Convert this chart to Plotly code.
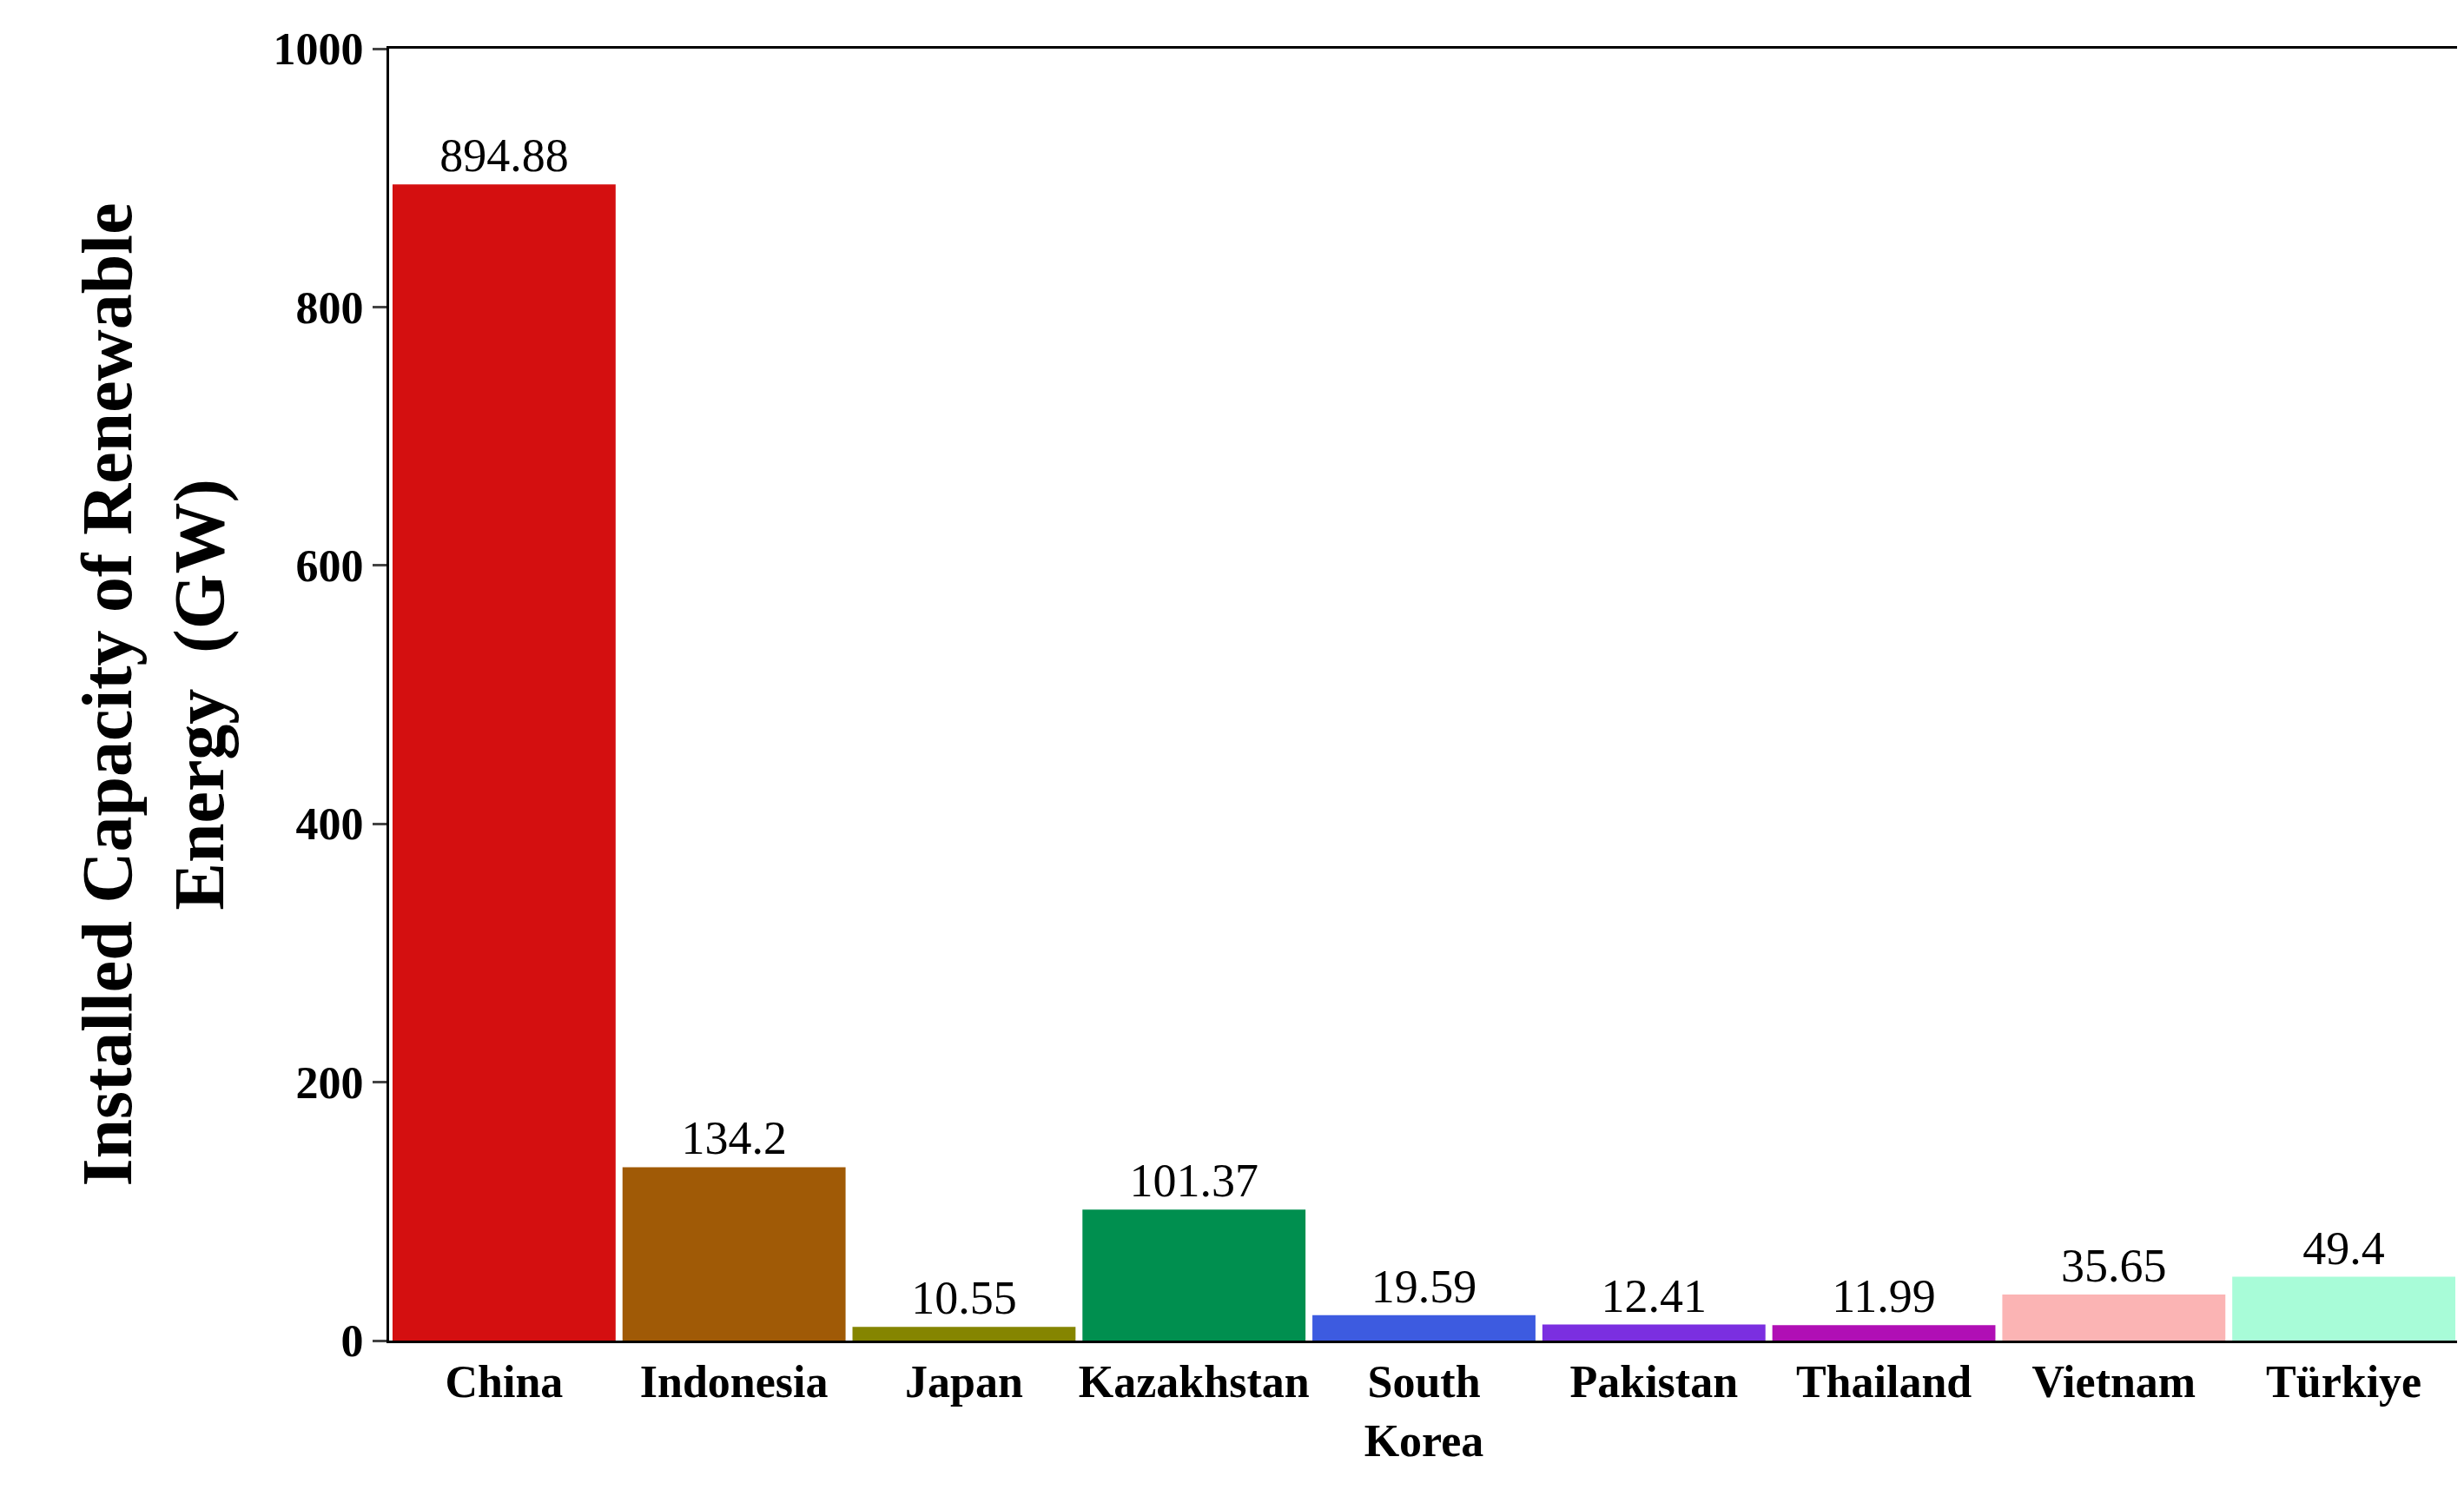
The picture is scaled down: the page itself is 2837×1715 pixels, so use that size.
import plotly.graph_objects as go

countries = ["China", "Indonesia", "Japan", "Kazakhstan", "South<br>Korea",
             "Pakistan", "Thailand", "Vietnam", "Türkiye"]
capacity = [894.88, 134.2, 10.55, 101.37, 19.59, 12.41, 11.99, 35.65, 49.4]
labels = ["894.88", "134.2", "10.55", "101.37", "19.59", "12.41", "11.99", "35.65", "49.4"]
colors = ["#d40f10", "#a05a06", "#858500", "#008f4f", "#3d5be0",
          "#7b2fe0", "#b00fb5", "#fbb4b4", "#a8fcd8"]

fig = go.Figure(go.Bar(
    x=countries, y=capacity, marker_color=colors, marker_line_width=0,
    text=labels, textposition="outside", cliponaxis=False,
    textfont=dict(family="Liberation Serif", size=54, color="black"),
))

fig.update_layout(
    width=2837, height=1715, plot_bgcolor="white", paper_bgcolor="white",
    margin=dict(l=440, r=14, t=48, b=180),
    bargap=0.03, showlegend=False,
    font=dict(family="Liberation Serif", color="black"),
)
fig.update_xaxes(
    range=[-0.5, 8.5], showline=True, linecolor="black", linewidth=3, mirror=True,
    ticks="", tickfont=dict(size=52, family="Liberation Serif"),
    tickprefix="<b>", ticksuffix="</b>",
)
fig.update_yaxes(
    range=[0, 1000], dtick=200, showline=True, linecolor="black", linewidth=3,
    mirror=True, ticks="outside", ticklen=16, tickwidth=3, showgrid=False,
    tickfont=dict(size=52, family="Liberation Serif"),
    tickprefix="<b>", ticksuffix="</b>",
    title=dict(text="<b>Installed Capacity of Renewable<br>Energy  (GW)</b>",
               font=dict(size=82, family="Liberation Serif"), standoff=30),
)

fig.write_html("out.html")
